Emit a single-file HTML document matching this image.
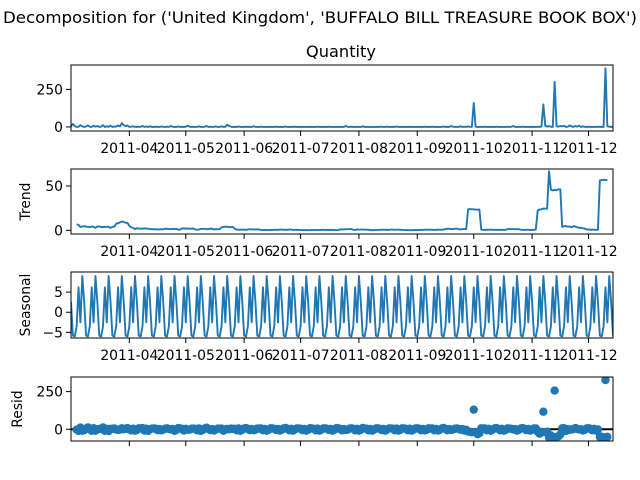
<!DOCTYPE html>
<html><head><meta charset="utf-8"><style>
html,body{margin:0;padding:0;background:#fff;}
svg{display:block;font-family:"DejaVu Sans","Liberation Sans",sans-serif;}
</style></head><body>
<svg id="chart" width="640" height="480" viewBox="0 0 640 480">
<text x="320" y="23" font-size="16.2" text-anchor="middle" textLength="634" lengthAdjust="spacingAndGlyphs">Decomposition for ('United Kingdom', 'BUFFALO BILL TREASURE BOOK BOX')</text>
<text x="341" y="57" font-size="16.2" text-anchor="middle">Quantity</text>
</svg>
<script>
// observed daily quantity, starting 2011-03-01
const observed = [
2,20,6,0,1,12,4, 0,3,10,1,0,8,2, 6,0,2,12,0,4,1, 8,0,3,2,10,4,25,
12,6,10,0,2,4,1, 0,2,1,6,0,3,0, 4,0,0,2,1,0,3, 1,0,2,0,6,1,0,
0,3,0,1,0,2,8, 2,0,1,0,0,4,0, 0,1,6,0,2,0,1, 3,0,0,4,0,1,15,
6,2,0,1,0,3,0, 0,0,2,0,1,0,4, 1,0,0,2,0,0,0, 0,1,0,0,2,0,1,
0,0,3,0,0,1,0, 2,0,0,1,0,0,0, 0,1,0,0,0,2,0, 0,0,1,0,2,0,0,
0,1,0,0,0,0,6, 1,0,2,0,0,1,0, 0,4,0,1,0,0,0, 0,0,1,0,2,0,0,
2,0,0,1,0,3,0, 0,1,0,0,0,1,0, 0,0,0,1,0,0,2, 0,1,0,2,0,0,1,
0,0,3,0,1,0,6, 2,0,1,0,4,0,2, 0,3,1,0,160,2,0, 0,1,0,2,0,1,0,
1,0,2,0,0,1,0, 0,2,0,1,6,0,1, 0,0,2,0,1,0,0, 1,0,0,2,0,4,150,
8,2,6,1,0,300,4, 2,6,4,8,0,2,10, 4,0,6,2,8,0,3, 1,0,2,0,0,1,0,
2,0,1,0,390,4,2, 0,1];
// weekly seasonal pattern
const seasonalPattern = [2.6,-5.8,-6.0,-3.5,6.2,-2.5,9.0];
const tickDays = [31,61,92,122,153,184,214,245,275];
const tickLabels = ["2011-04","2011-05","2011-06","2011-07","2011-08","2011-09","2011-10","2011-11","2011-12"];
const obsTicks = [0,250];
const trendTicks = [0,50];
const seasTicks = [-5,0,5];
const residTicks = [0,250];

const NS="http://www.w3.org/2000/svg";
const svg=document.getElementById('chart');
function mk(tag,attrs,parent){const e=document.createElementNS(NS,tag);for(const k in attrs)e.setAttribute(k,attrs[k]);(parent||svg).appendChild(e);return e;}

const n=observed.length;
// trend: centered 7-day moving average
const trend=observed.map((v,i)=>{if(i<3||i>n-4)return null;let s=0;for(let j=i-3;j<=i+3;j++)s+=observed[j];return s/7;});
const seasonal=observed.map((v,i)=>seasonalPattern[i%7]);
const resid=observed.map((v,i)=>trend[i]===null?null:v-trend[i]-seasonal[i]);

const X0=71,X1=613,D0=0,D1=288;
const xs=d=>X0+(d-D0)/(D1-D0)*(X1-X0);

const panels=[
 {name:'observed',top:65,bot:131,ymin:-27,ymax:412,ticks:obsTicks,data:observed,label:null,labels:true},
 {name:'trend',top:169,bot:234,ymin:-4.2,ymax:69.2,ticks:trendTicks,data:trend,label:'Trend',lx:30,labels:true},
 {name:'seasonal',top:272,bot:338,ymin:-6.4,ymax:10,ticks:seasTicks,data:seasonal,label:'Seasonal',lx:30,labels:true},
 {name:'resid',top:377,bot:441,ymin:-78,ymax:347,ticks:residTicks,data:resid,label:'Resid',lx:22,labels:false,scatter:true}
];
panels.forEach(p=>{
 const ys=v=>p.bot-(v-p.ymin)/(p.ymax-p.ymin)*(p.bot-p.top);
 const g=mk('g',{});
 
 
 const cid='clip-'+p.name;
 const cp=mk('clipPath',{id:cid},g);mk('rect',{x:X0,y:p.top,width:X1-X0,height:p.bot-p.top},cp);
 if(p.scatter){
  const ln=mk('line',{x1:X0,x2:X1,y1:ys(0),y2:ys(0),stroke:'#000','stroke-width':2,'clip-path':'url(#'+cid+')'},g);
  
  
  p.data.forEach((v,i)=>{ if(v===null)return;
   const c=mk('circle',{cx:xs(i),cy:ys(v),r:4.2,fill:'#1f77b4','clip-path':'url(#'+cid+')'},g);
   
   
  });
 } else {
  let d='',pen=false;
  p.data.forEach((v,i)=>{ if(v===null){pen=false;return;} d+=(pen?'L':'M')+xs(i).toFixed(2)+','+ys(v).toFixed(2);pen=true;});
  const path=mk('path',{d:d,fill:'none',stroke:'#1f77b4','stroke-width':1.9,'stroke-linejoin':'round','clip-path':'url(#'+cid+')'},g);
  
  
 }
 const fr=mk('rect',{x:X0,y:p.top,width:X1-X0,height:p.bot-p.top,fill:'none',stroke:'#000','stroke-width':1},g);
 
 
 p.ticks.forEach(t=>{
  const y=ys(t);
  mk('line',{x1:X0-5,x2:X0,y1:y,y2:y,stroke:'#000','stroke-width':1},g);
  const tx=mk('text',{x:X0-8,y:y+5,'font-size':13.9,'text-anchor':'end'},g);
  tx.textContent=String(t).replace('-','\u2212');
  
  
 });
 tickDays.forEach((dd,k)=>{
  const x=xs(dd);
  mk('line',{x1:x,x2:x,y1:p.bot,y2:p.bot+5,stroke:'#000','stroke-width':1},g);
  if(p.labels){
   const tx=mk('text',{x:x,y:p.bot+22,'font-size':13.9,'text-anchor':'middle'},g);
   tx.textContent=tickLabels[k];
   
   
  }
 });
 if(p.label){
  const cy=(p.top+p.bot)/2;
  const lt=mk('text',{x:p.lx,y:cy,'font-size':13.9,'text-anchor':'middle',transform:'rotate(-90 '+p.lx+' '+cy+')'},g);
  lt.textContent=p.label;
  
  
 }
});
</script>
</body></html>
